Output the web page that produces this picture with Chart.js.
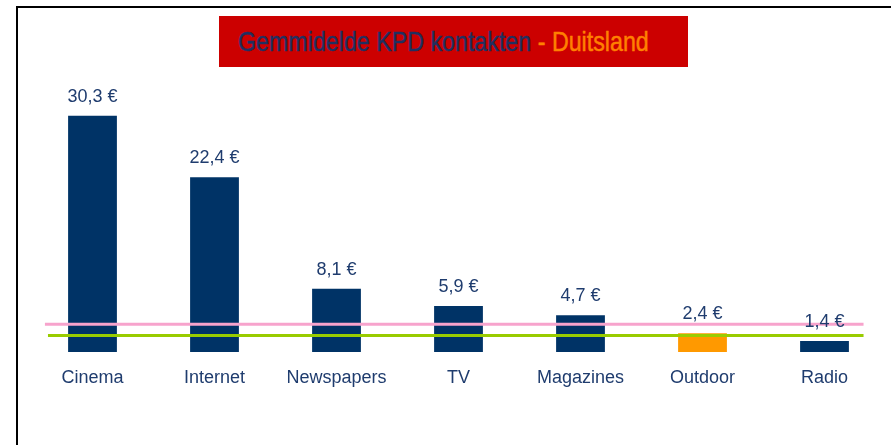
<!DOCTYPE html>
<html>
<head>
<meta charset="utf-8">
<script src="https://cdn.jsdelivr.net/npm/chart.js@4.4.0/dist/chart.umd.min.js"></script>
<style>
  html, body { margin: 0; padding: 0; background: #fff; }
  #wrap { position: relative; width: 891px; height: 445px; overflow: hidden; }
  #frame { position: absolute; left: 16px; top: 6px; width: 880px; height: 450px;
           border-top: 2px solid #000; border-left: 2px solid #000; }
  #titlebox { position: absolute; left: 219px; top: 16px; width: 469px; height: 51px;
              background: #cc0000; }
  #titletext { position: absolute; left: 19px; top: 8px; line-height: 36px;
               transform: scaleX(0.83); transform-origin: 0 50%;
               font-family: "Liberation Sans Narrow", "Arial Narrow", "Liberation Sans", sans-serif;
               font-size: 28px; color: #1f3060; white-space: nowrap;
               -webkit-text-stroke: 0.5px #1f3060; }
  #titletext .hl { color: #ff8000; -webkit-text-stroke: 0.5px #ff8000; }
  canvas { position: absolute; left: 0; top: 0; }
</style>
</head>
<body>
<div id="wrap">
  <div id="frame"></div>
  <div id="titlebox"><span id="titletext">Gemmidelde KPD kontakten <span class="hl">- Duitsland</span></span></div>
  <canvas id="c" width="891" height="445"></canvas>
</div>
<script>
const categories = ["Cinema", "Internet", "Newspapers", "TV", "Magazines", "Outdoor", "Radio"];
const values = [30.3, 22.4, 8.1, 5.9, 4.7, 2.4, 1.4];
const valueLabels = ["30,3 €", "22,4 €", "8,1 €", "5,9 €", "4,7 €", "2,4 €", "1,4 €"];
const barColors = ["#003366", "#003366", "#003366", "#003366", "#003366", "#ff9900", "#003366"];
const pinkLineValue = 3.55;
const greenLineValue = 2.1;

const refLines = {
  id: 'refLines',
  afterDatasetsDraw(chart) {
    const { ctx, scales } = chart;
    const x = scales.x, y = scales.y;
    const step = x.getPixelForValue(1) - x.getPixelForValue(0);
    const lines = [
      { v: pinkLineValue, color: '#f7a3cc', x0: x.getPixelForValue(0) - 0.39 * step, x1: x.getPixelForValue(6) + 0.32 * step },
      { v: greenLineValue, color: '#99cc00', x0: x.getPixelForValue(0) - 0.365 * step, x1: x.getPixelForValue(6) + 0.32 * step }
    ];
    ctx.save();
    lines.forEach(l => {
      const py = y.getPixelForValue(l.v);
      ctx.strokeStyle = l.color;
      ctx.lineWidth = 3;
      ctx.beginPath();
      ctx.moveTo(l.x0, py);
      ctx.lineTo(l.x1, py);
      ctx.stroke();
    });
    ctx.restore();
  }
};

const valueLabelPlugin = {
  id: 'valueLabels',
  afterDraw(chart) {
    const { ctx } = chart;
    const meta = chart.getDatasetMeta(0);
    ctx.save();
    ctx.font = '18px "Liberation Sans", Arial, sans-serif';
    ctx.fillStyle = '#1f3c6e';
    ctx.textAlign = 'center';
    ctx.textBaseline = 'middle';
    meta.data.forEach((bar, i) => {
      ctx.fillText(valueLabels[i], bar.x, bar.y - 19);
    });
    ctx.restore();
  }
};

new Chart(document.getElementById('c'), {
  type: 'bar',
  data: {
    labels: categories,
    datasets: [{
      data: values,
      backgroundColor: barColors,
      borderWidth: 0,
      barPercentage: 0.8,
      categoryPercentage: 0.5
    }]
  },
  options: {
    responsive: false,
    animation: false,
    events: [],
    layout: { padding: { left: 31.5, right: 5.5, top: 79, bottom: 49.4 } },
    plugins: { legend: { display: false }, tooltip: { enabled: false }, title: { display: false } },
    scales: {
      x: {
        grid: { display: false },
        border: { display: false },
        ticks: {
          padding: 7,
          color: '#1f3c6e',
          font: { family: '"Liberation Sans", Arial, sans-serif', size: 18 },
          maxRotation: 0,
          autoSkip: false
        }
      },
      y: {
        display: false,
        min: 0,
        max: 35
      }
    }
  },
  plugins: [refLines, valueLabelPlugin]
});
</script>
</body>
</html>
